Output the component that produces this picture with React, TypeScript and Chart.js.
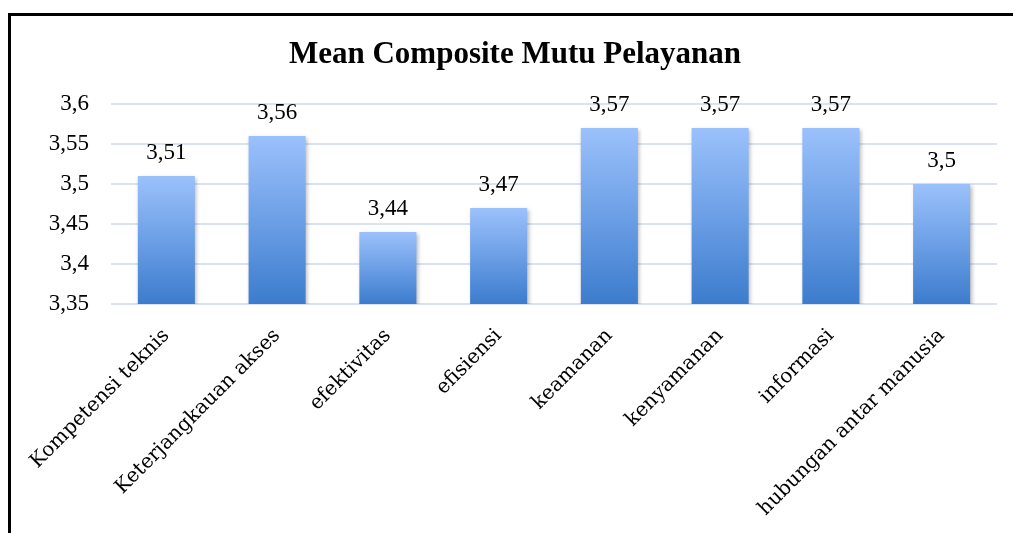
import React, { useEffect, useRef } from "react";
import { Chart, registerables } from "chart.js";

Chart.register(...registerables);

const TITLE = "Mean Composite Mutu Pelayanan";
const categories = [
  "Kompetensi teknis",
  "Keterjangkauan akses",
  "efektivitas",
  "efisiensi",
  "keamanan",
  "kenyamanan",
  "informasi",
  "hubungan antar manusia",
];
const values = [3.51, 3.56, 3.44, 3.47, 3.57, 3.57, 3.57, 3.5];
const yMin = 3.35;
const yMax = 3.6;
const yStep = 0.05;

const fmt = (v: number) => String(Number(v.toFixed(2))).replace(".", ",");

const NUM_FONT = "Liberation Serif";
const CAT_FONT = "DejaVu Serif";

export default function App() {
  const ref = useRef<HTMLCanvasElement | null>(null);

  useEffect(() => {
    const canvas = ref.current;
    if (!canvas) return;

    const framePlugin = {
      id: "frame",
      beforeDraw(chart: any) {
        const ctx = chart.ctx;
        ctx.save();
        ctx.fillStyle = "#ffffff";
        ctx.fillRect(0, 0, chart.width, chart.height);
        ctx.fillStyle = "#000000";
        ctx.fillRect(8, 13, 1005, 3);
        ctx.fillRect(8, 13, 3, 520);
        ctx.font = "bold 31px 'Liberation Serif'";
        ctx.textAlign = "center";
        ctx.textBaseline = "middle";
        ctx.fillText(TITLE, 515, 55);
        ctx.restore();
      },
      beforeDatasetsDraw(chart: any) {
        const ctx = chart.ctx;
        ctx.save();
        ctx.shadowColor = "rgba(0,0,0,0.28)";
        ctx.shadowBlur = 4;
        ctx.shadowOffsetX = 1.5;
        ctx.shadowOffsetY = 1.5;
      },
      afterDatasetsDraw(chart: any) {
        const ctx = chart.ctx;
        ctx.restore();
        ctx.save();
        ctx.font = `23px '${NUM_FONT}'`;
        ctx.fillStyle = "#000000";
        ctx.textAlign = "center";
        ctx.textBaseline = "alphabetic";
        const meta = chart.getDatasetMeta(0);
        meta.data.forEach((bar: any, i: number) => {
          ctx.fillText(fmt(values[i]), bar.x, bar.y - 17);
        });
        ctx.restore();
      },
    };

    const chart = new Chart(canvas, {
      type: "bar",
      data: {
        labels: categories,
        datasets: [
          {
            data: values,
            backgroundColor: (c: any) => {
              const ch = c.chart;
              const area = ch.chartArea;
              const ys = ch.scales?.y;
              if (!area || !ys || c.raw == null) return "#6a9ee6";
              const top = ys.getPixelForValue(c.raw);
              const g = ch.ctx.createLinearGradient(0, top, 0, area.bottom);
              g.addColorStop(0, "#9bc1fb");
              g.addColorStop(0.5, "#6c9fe6");
              g.addColorStop(1, "#3c7ccd");
              return g;
            },
            borderWidth: 0,
            categoryPercentage: 1,
            barPercentage: 0.515,
          },
        ],
      },
      options: {
        responsive: false,
        animation: false,
        layout: { padding: { left: 8, right: 16, top: 104, bottom: 0 } },
        plugins: {
          legend: { display: false },
          title: { display: false },
          tooltip: { enabled: false },
        },
        scales: {
          x: {
            grid: { display: false },
            border: { display: false },
            ticks: {
              color: "#000000",
              font: { family: CAT_FONT, size: 20 },
              minRotation: 45,
              maxRotation: 45,
              padding: 12,
              autoSkip: false,
            },
            afterFit: (s: any) => {
              s.height = 229;
            },
          },
          y: {
            min: yMin,
            max: yMax,
            border: { display: false },
            grid: { color: "#d9e3f4", lineWidth: 2, drawTicks: false },
            ticks: {
              stepSize: yStep,
              color: "#000000",
              font: { family: NUM_FONT, size: 23 },
              padding: 22,
              callback: (v: any) => fmt(Number(v)),
            },
            afterFit: (s: any) => {
              s.width = 103;
            },
          },
        },
      },
      plugins: [framePlugin],
    });

    return () => chart.destroy();
  }, []);

  return (
    <div style={{ position: "absolute", left: 0, top: 0, width: 1013, height: 533 }}>
      <canvas ref={ref} width={1013} height={533} style={{ display: "block" }} />
    </div>
  );
}
